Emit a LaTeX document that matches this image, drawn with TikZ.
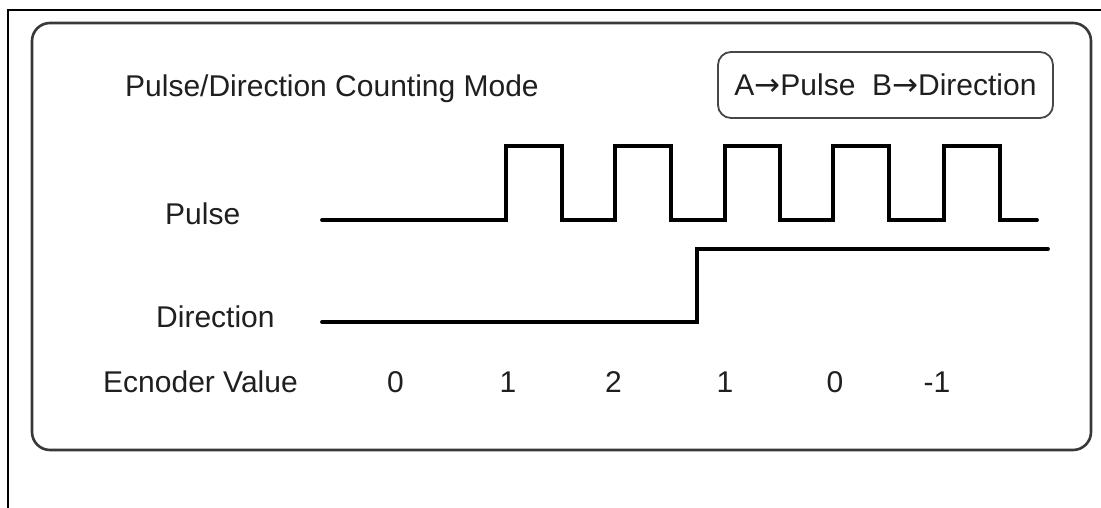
\documentclass[tikz,border=0pt]{standalone}
\usepackage{fontspec}
\setmainfont{Liberation Sans}
\newfontfamily\arrowfont{DejaVu Sans}
\newcommand{\rarr}{{\arrowfont\fontsize{31}{36}\selectfont →}}
\begin{document}
\begin{tikzpicture}[x=1pt,y=-1pt,
  lbl/.style={anchor=base west,inner sep=0pt,font=\fontsize{30}{36}\selectfont,text=black!88},
  val/.style={anchor=base,inner sep=0pt,font=\fontsize{30}{36}\selectfont,text=black!88},
  wave/.style={line width=3.8pt,line cap=round,line join=miter,black},
  legendbox/.style={draw=black!72,line width=1.8pt,rounded corners=13pt,minimum width=335pt,minimum height=66pt,inner sep=0pt,font=\fontsize{30}{36}\selectfont,text=black!88}
]
\useasboundingbox (0,0) rectangle (1101,508);
\fill[white] (0,0) rectangle (1101,508);
% outer frame
\draw[line width=2pt] (8,508) -- (8,10) -- (1101,10);
% main rounded panel
\draw[line width=2.6pt,black!78,rounded corners=18pt] (32,23) rectangle (1091,450);
% legend
\node[legendbox] (legend) at (885.5,85) {A\rarr Pulse\ \ B\rarr Direction};
% labels
\node[lbl] (title) at (125,97) {Pulse/Direction Counting Mode};
\node[lbl] (pulse) at (165,224) {Pulse};
\node[lbl] (dir) at (156,327) {Direction};
\node[lbl] (enc) at (103,392) {Ecnoder Value};
% values
\node[val] (v0) at (395.5,392) {0};
\node[val] (v1) at (508,392) {1};
\node[val] (v2) at (613.5,392) {2};
\node[val] (v3) at (725,392) {1};
\node[val] (v4) at (835,392) {0};
\node[val] (v5) at (937,392) {-1};
% pulse waveform
\draw[wave] (322,220) -- (506,220) -- (506,146) -- (562,146) -- (562,220)
  -- (615,220) -- (615,146) -- (671,146) -- (671,220)
  -- (725,220) -- (725,146) -- (780,146) -- (780,220)
  -- (833,220) -- (833,146) -- (889,146) -- (889,220)
  -- (944,220) -- (944,146) -- (1000,146) -- (1000,220) -- (1037,220);
% direction waveform
\draw[wave] (322,322) -- (697,322) -- (697,249) -- (1048,249);
\end{tikzpicture}
\end{document}
